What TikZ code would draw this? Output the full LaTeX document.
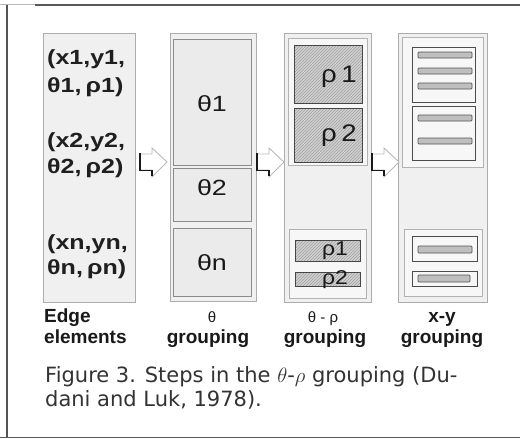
\documentclass[tikz,border=0pt]{standalone}
\usepackage{fontspec}
\setmainfont{Liberation Sans}
\newfontfamily\capfont{DejaVu Sans}
\usetikzlibrary{patterns}
\newcommand\placebox[6]{\node[#1,anchor=north west,minimum width=#5,minimum height=#6] (#2) at (#3,#4) {};}
\newcommand\hollowarrow[2]{%
  \begin{scope}[shift={(#1,0)}]
    \draw[arrowbody] (0,154) -- (12,154) -- (12,148) -- (27,162) -- (12,177) -- (12,170) -- (0,170) -- cycle;
    \draw[arrowshadow] (0,153) -- (0,170.5) -- (12,170.5) -- (12,176);
    \coordinate (#2) at (27,162);
  \end{scope}}
\tikzset{
  colbox/.style={draw=gray!65, fill=gray!12, line width=0.9pt, inner sep=0pt, outer sep=0pt},
  thetabox/.style={draw=gray!70!black!70, fill=gray!16, line width=0.9pt, inner sep=0pt, outer sep=0pt},
  framebox/.style={draw=gray!60, fill=gray!6, line width=0.9pt, inner sep=0pt, outer sep=0pt},
  hatchbox/.style={draw=gray!55!black, line width=0.8pt, inner sep=0pt, outer sep=0pt,
     preaction={fill=gray!35}, pattern=north east lines, pattern color=gray!75},
  subbox/.style={draw=gray!60!black, fill=gray!6, line width=0.8pt, inner sep=0pt, outer sep=0pt},
  barbox/.style={draw=gray!65!black, fill=gray!50, line width=0.7pt, rounded corners=0.8pt, inner sep=0pt, outer sep=0pt},
  arrowbody/.style={draw=gray!55, fill=white, line width=0.9pt, line join=miter},
  arrowshadow/.style={draw=black!90, line width=1.5pt},
  bigtxt/.style={font=\fontsize{20.5}{24}\selectfont\bfseries, text=black!88, inner sep=0pt, anchor=west},
  celltxt/.style={font=\fontsize{22}{26}\selectfont, text=black!90, inner sep=0pt},
  labtxt/.style={font=\fontsize{19}{22}\selectfont\bfseries, text=black!90, inner sep=0pt, anchor=base},
  smalltxt/.style={font=\fontsize{15}{18}\selectfont, text=black!90, inner sep=0pt, anchor=base},
  captxt/.style={font=\capfont\fontsize{21}{24}\selectfont, text=black!80, inner sep=0pt, anchor=base west},
}
\begin{document}
\begin{tikzpicture}[x=1pt,y=-1pt]
\useasboundingbox[fill=white] (0,0) rectangle (520,439);
% outer frame
\draw[gray!55, line width=1.2pt] (0,4.5) -- (35,4.5);
\draw[gray!70!black, line width=1.4pt] (35,5) -- (520,5);
\draw[gray!65!black, line width=1.4pt] (7,5) -- (7,437);
\draw[gray!70!black, line width=1.8pt] (0,437.5) -- (520,437.5);

% column 1
\placebox{colbox}{col1}{43}{33}{92}{269}
\node[bigtxt] (e1a) at (47,59) {\scalebox{1.22}[1]{(x1,y1,}};
\node[bigtxt] (e1b) at (47,87) {\scalebox{1.22}[1]{θ1,\,ρ1)}};
\node[bigtxt] (e2a) at (47,142) {\scalebox{1.22}[1]{(x2,y2,}};
\node[bigtxt] (e2b) at (47,168) {\scalebox{1.22}[1]{θ2,\,ρ2)}};
\node[bigtxt] (ena) at (47,244) {\scalebox{1.22}[1]{(xn,yn,}};
\node[bigtxt] (enb) at (47,269) {\scalebox{1.22}[1]{θn,\,ρn)}};

% column 2
\placebox{colbox}{col2}{170}{33}{86}{268}
\placebox{thetabox}{th1}{173}{39}{78}{126}
\placebox{thetabox}{th2}{173}{168}{78}{53}
\placebox{thetabox}{thn}{173}{228}{78}{68}
\node[celltxt] (th1t) at (212,104) {\scalebox{1.22}[1]{θ1}};
\node[celltxt] (th2t) at (212,188) {\scalebox{1.22}[1]{θ2}};
\node[celltxt] (thnt) at (212,263) {\scalebox{1.22}[1]{θn}};

% column 3
\placebox{colbox}{col3}{284}{33}{87}{269}
\placebox{framebox}{f3a}{288}{38}{79}{127}
\placebox{hatchbox}{r1}{294}{45}{68}{58}
\placebox{hatchbox}{r2}{294}{108}{68}{54}
\placebox{framebox}{f3b}{289}{229}{77}{69}
\placebox{hatchbox}{r3}{295}{240}{65}{21}
\placebox{hatchbox}{r4}{295}{272}{65}{14}
\node[celltxt, font=\fontsize{24}{26}\selectfont] (r1t) at (339,77) {\scalebox{1.15}[1]{ρ\,1}};
\node[celltxt, font=\fontsize{24}{26}\selectfont] (r2t) at (339,136) {\scalebox{1.15}[1]{ρ\,2}};
\node[celltxt, font=\fontsize{20}{22}\selectfont] (r3t) at (335,251) {\scalebox{1.15}[1]{ρ1}};
\node[celltxt, font=\fontsize{20}{22}\selectfont] (r4t) at (335,280) {\scalebox{1.15}[1]{ρ2}};

% column 4
\placebox{colbox}{col4}{398}{33}{89}{269}
\placebox{framebox}{f4a}{402}{37}{81}{130}
\placebox{subbox}{s1}{412}{47}{63}{55}
\placebox{barbox}{b1}{418}{52}{54}{6}
\placebox{barbox}{b2}{418}{68}{54}{6}
\placebox{barbox}{b3}{418}{83}{54}{6}
\placebox{subbox}{s2}{412}{106}{63}{54}
\placebox{barbox}{b4}{418}{115}{54}{6}
\placebox{barbox}{b5}{418}{138}{54}{6}
\placebox{framebox}{f4b}{404}{229}{78}{67}
\placebox{subbox}{s3}{412}{236}{65}{25}
\placebox{barbox}{b6}{418}{246}{54}{7}
\placebox{subbox}{s4}{412}{271}{65}{15}
\placebox{barbox}{b7}{418}{275}{52}{7}

% arrows
\hollowarrow{140}{a1}
\hollowarrow{257}{a2}
\hollowarrow{372}{a3}

% labels
\node[labtxt, anchor=base west] (l1a) at (44,322) {Edge};
\node[labtxt, anchor=base west] (l1b) at (44,343) {elements};
\node[smalltxt] (l2a) at (212,322) {θ};
\node[labtxt] (l2b) at (208,343) {grouping};
\node[smalltxt] (l3a) at (323,322) {θ - ρ};
\node[labtxt] (l3b) at (325,343) {grouping};
\node[labtxt] (l4a) at (442,322) {x-y};
\node[labtxt] (l4b) at (442,343) {grouping};

% caption
\node[captxt] (cap1) at (45,382) {Figure 3. Steps in the $\theta$-$\rho$ grouping (Du-};
\node[captxt] (cap2) at (45,406) {dani and Luk, 1978).};
\end{tikzpicture}
\end{document}
